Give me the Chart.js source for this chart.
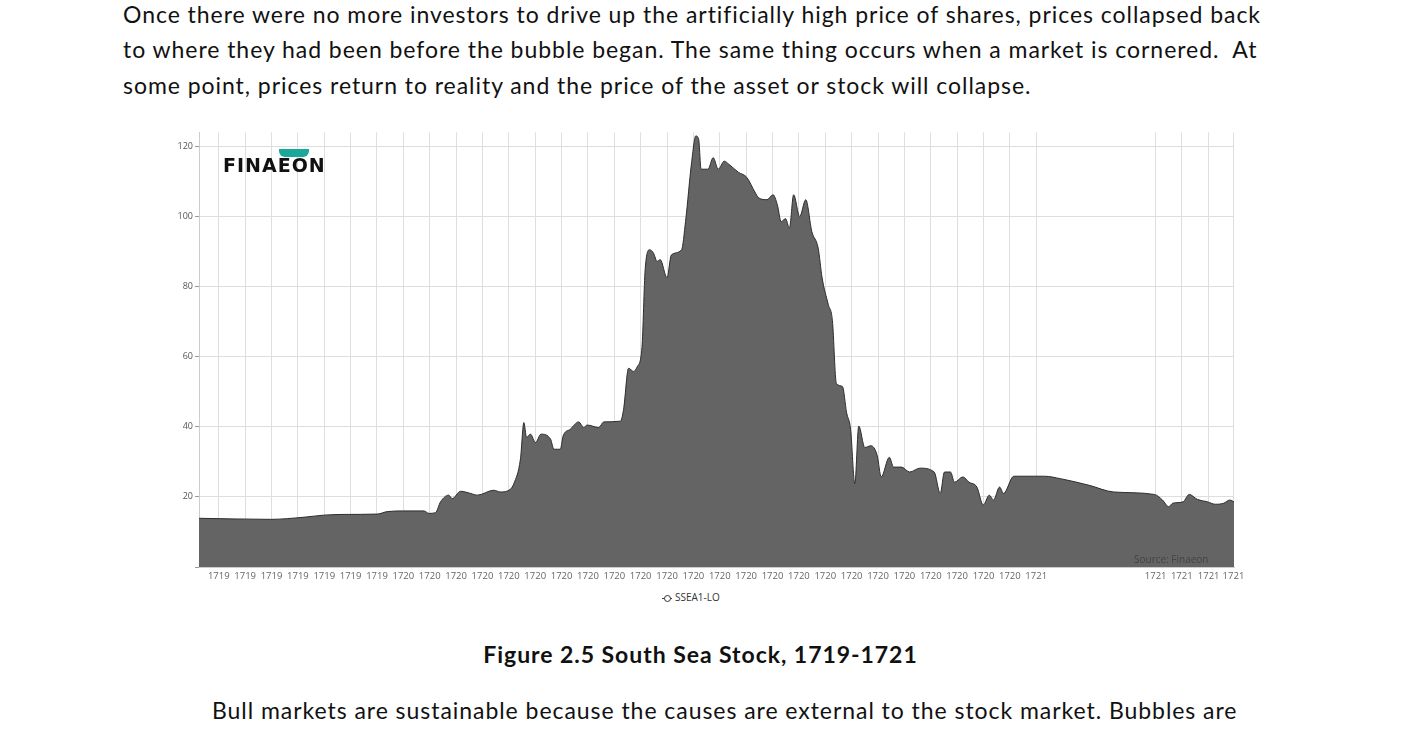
<!DOCTYPE html>
<html>
<head>
<meta charset="utf-8">
<script src="https://cdn.jsdelivr.net/npm/chart.js@4.4.0/dist/chart.umd.min.js"></script>
<style>
  body { margin: 0; width: 1401px; height: 738px; overflow: hidden; background: #fff; font-family: Lato, "Open Sans", sans-serif; }
  .line { position: absolute; white-space: nowrap; font-size: 23px; color: #111; letter-spacing: 0.95px; }
  #wrap { position: absolute; left: 150px; top: 125px; width: 1110px; height: 462px; }
  #logo { position: absolute; left: 223px; top: 155px; font: 900 19px "DejaVu Sans", sans-serif; letter-spacing: 1px; color: #111; line-height: 20px; }
  #logo span.tl { position: absolute; left: 56px; top: -6px; width: 30px; height: 8px; background: #1aa89a; border-radius: 0 0 6px 6px; }
  #source { position: absolute; left: 1134px; top: 552px; font: 10px "Open Sans", sans-serif; color: #444; }
  #legend { position: absolute; left: 662px; top: 590px; font: 10px "Open Sans", sans-serif; color: #333; }
  #legend i { display: inline-block; width: 10px; border-top: 1px solid #333; vertical-align: middle; position: relative; margin-right: 3px; }
  #legend i:after { content: ""; position: absolute; left: 2px; top: -4px; width: 5px; height: 5px; border: 1px solid #333; border-radius: 50%; background: #fff; }
</style>
</head>
<body>
<div class="line" style="left:123px; top:0px;">Once there were no more investors to drive up the artificially high price of shares, prices collapsed back</div>
<div class="line" style="left:123px; top:35px;">to where they had been before the bubble began. The same thing occurs when a market is cornered.&nbsp; At</div>
<div class="line" style="left:123px; top:71px;">some point, prices return to reality and the price of the asset or stock will collapse.</div>

<div id="wrap"><canvas id="chart" width="1110" height="462"></canvas></div>
<div id="logo"><span class="tl"></span>FINAEON</div>
<div id="source">Source: Finaeon</div>
<div id="legend"><i></i>SSEA1-LO</div>

<div class="line" style="left:0; width:1401px; text-align:center; top:640px; font-weight:bold;">Figure 2.5 South Sea Stock, 1719-1721</div>
<div class="line" style="left:212px; top:696px;">Bull markets are sustainable because the causes are external to the stock market. Bubbles are</div>

<script>
// time position (in tick periods) and price
const periods = [-0.75, 1.97, 3.23, 3.99, 4.75, 6.01, 6.39, 7.02, 7.78, 7.97, 8.22, 8.41, 8.72, 8.85, 9.17, 9.55, 9.80,
  10.43, 10.68, 11.06, 11.19, 11.44, 11.57, 11.67, 11.82, 12.01, 12.22, 12.58, 12.71, 12.95, 13.06, 13.33, 13.65,
  13.84, 13.97, 14.41, 14.60, 15.23, 15.35, 15.54, 15.73, 15.86, 16.05, 16.17, 16.34, 16.49, 16.62, 16.74, 17.0,
  17.16, 17.55, 17.70, 17.93, 18.09, 18.20, 18.29, 18.55, 18.75, 18.94, 19.17, 19.33, 19.71, 20.02, 20.33, 20.48,
  20.79, 21.02, 21.18, 21.33, 21.49, 21.64, 21.80, 22.03, 22.26, 22.49, 22.73, 22.88, 23.11, 23.27, 23.42, 23.65,
  23.81, 23.96, 24.12, 24.27, 24.50, 24.73, 24.97, 25.12, 25.43, 25.59, 25.89, 26.20, 26.59, 27.13, 27.36, 27.52,
  27.75, 27.90, 28.22, 28.45, 28.75, 28.99, 29.22, 29.38, 29.61, 29.76, 30.15, 31.31, 31.92, 33.01, 33.94, 35.48,
  35.79, 36.02, 36.18, 36.57, 36.80, 37.11, 37.49, 37.80, 38.11, 38.34, 38.5];
const prices = [13.9, 13.6, 14.2, 14.8, 15.0, 15.1, 15.8, 16.0, 16.0, 15.3, 15.5, 18.6, 20.5, 19.5, 21.6, 21.0, 20.5,
  21.9, 21.4, 22.2, 23.8, 30.8, 41.2, 37.0, 37.9, 35.5, 37.9, 36.5, 33.6, 33.6, 37.4, 39.3, 41.4,
  39.8, 40.5, 39.8, 41.4, 41.6, 44.9, 56.7, 55.8, 57.0, 62.8, 84.9, 90.5, 89.5, 87.2, 87.7, 82.5,
  89.0, 90.5, 98.5, 115.4, 123.0, 122.0, 113.5, 113.5, 116.8, 113.5, 115.8, 115.0, 112.6, 111.2, 107.0, 105.3,
  104.8, 106.2, 103.4, 98.5, 99.4, 96.7, 106.2, 100.0, 104.8, 95.7, 91.0, 82.5, 75.0, 70.3, 52.4, 51.5,
  44.0, 39.3, 23.8, 40.2, 34.1, 34.6, 31.8, 25.7, 31.3, 28.5, 28.5, 27.1, 28.2, 27.1, 21.0, 27.1,
  27.1, 24.2, 25.7, 24.2, 22.8, 17.7, 20.5, 19.1, 22.8, 21.0, 25.9, 25.9, 25.2, 23.3, 21.4, 20.7,
  19.1, 17.2, 18.2, 18.6, 20.7, 19.3, 18.6, 17.9, 18.2, 19.1, 18.6];

const tickPositions = [0, 1, 2, 3, 4, 5, 6, 7, 8, 9, 10, 11, 12, 13, 14, 15, 16, 17, 18, 19, 20, 21, 22, 23, 24, 25,
  26, 27, 28, 29, 30, 31, 35.53, 36.52, 37.54, 38.48];
const tickLabels = ["1719", "1719", "1719", "1719", "1719", "1719", "1719", "1720", "1720", "1720", "1720", "1720",
  "1720", "1720", "1720", "1720", "1720", "1720", "1720", "1720", "1720", "1720", "1720", "1720", "1720", "1720",
  "1720", "1720", "1720", "1720", "1720", "1721", "1721", "1721", "1721", "1721"];
const yTicks = [0, 20, 40, 60, 80, 100, 120];

const points = periods.map((p, i) => ({ x: p, y: prices[i] }));

new Chart(document.getElementById("chart"), {
  type: "line",
  data: {
    datasets: [{
      label: "SSEA1-LO",
      data: points,
      fill: "origin",
      backgroundColor: "#646464",
      borderColor: "#2e2e2e",
      borderWidth: 1,
      pointRadius: 0,
      cubicInterpolationMode: "monotone"
    }]
  },
  options: {
    responsive: false,
    animation: false,
    maintainAspectRatio: false,
    layout: { padding: { top: 7, right: 26, left: 0, bottom: 0 } },
    plugins: { legend: { display: false }, tooltip: { enabled: false } },
    scales: {
      x: {
        type: "linear",
        min: -0.75,
        max: 38.5,
        afterBuildTicks: (scale) => { scale.ticks = tickPositions.map((v) => ({ value: v })); },
        afterFit: (scale) => { scale.height = 20; },
        ticks: {
          autoSkip: false,
          maxRotation: 0,
          color: "#666",
          font: { size: 9.5, family: "Open Sans" },
          padding: 4,
          callback: (v, i) => tickLabels[i]
        },
        grid: { color: "#dedede", drawTicks: false },
        border: { color: "#ccc" }
      },
      y: {
        min: 0,
        max: 124,
        afterBuildTicks: (scale) => { scale.ticks = yTicks.map((v) => ({ value: v })); },
        afterFit: (scale) => { scale.width = 49; },
        ticks: {
          color: "#555",
          font: { size: 9, family: "Open Sans" },
          padding: 2,
          callback: (v) => (v === 0 ? "" : v)
        },
        grid: { color: "#dedede", tickLength: 4, tickColor: "#999" },
        border: { color: "#ccc" }
      }
    }
  }
});
</script>
</body>
</html>
